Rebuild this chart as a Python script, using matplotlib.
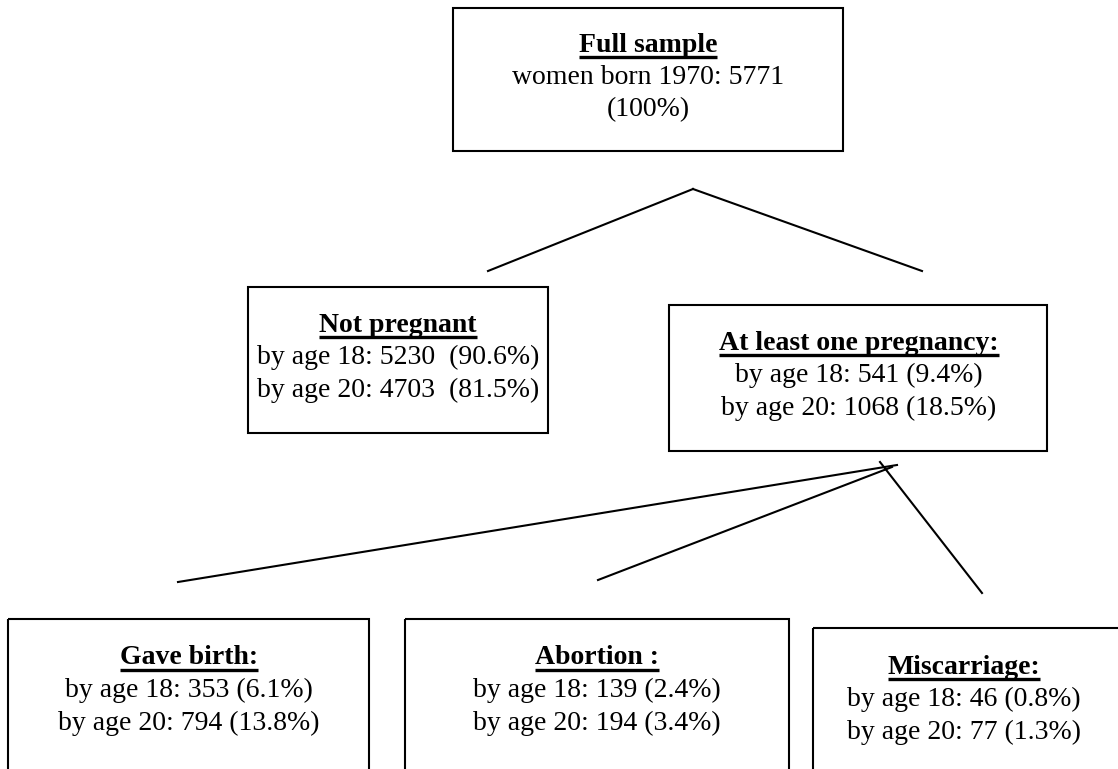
import matplotlib
matplotlib.use("Agg")
import matplotlib.pyplot as plt
from matplotlib.patches import Rectangle

# ---- data ----
titles = ["Full sample", "Not pregnant", "At least one pregnancy:",
          "Gave birth:", "Abortion :", "Miscarriage:"]
n_age18 = [5771, 5230, 541, 353, 139, 46]
pct_age18 = [100, 90.6, 9.4, 6.1, 2.4, 0.8]
n_age20 = [None, 4703, 1068, 794, 194, 77]
pct_age20 = [None, 81.5, 18.5, 13.8, 3.4, 1.3]

W, H = 1118, 769
fig = plt.figure(figsize=(W / 100, H / 100), dpi=100)
ax = fig.add_axes([0, 0, 1, 1])
ax.set_xlim(0, W)
ax.set_ylim(H, 0)
ax.axis("off")

FONT = "Liberation Serif"
FS = 20

# layout: (left, top, right, bottom)
boxes = [
    (453, 8, 843, 151),
    (248, 287, 548, 433),
    (669, 305, 1047, 451),
    (8, 619, 369, 780),
    (405, 619, 789, 780),
    (813, 628, 1125, 780),
]
# text centre positions (x, y of title)
text_pos = [
    (648, 45),
    (398, 325),
    (859, 343),
    (189, 658),
    (597, 658),
    (964, 667),
]
LS = 32.5

for (l, t, r, b) in boxes:
    ax.add_patch(Rectangle((l, t), r - l, b - t, fill=False,
                           edgecolor="black", linewidth=1.5, clip_on=False))

def fmt_line(i):
    if i == 0:
        return [f"women born 1970: {n_age18[0]}", f"({pct_age18[0]}%)"]
    sep = "  " if i == 1 else " "
    return [f"by age 18: {n_age18[i]}{sep}({pct_age18[i]}%)",
            f"by age 20: {n_age20[i]}{sep}({pct_age20[i]}%)"]

title_texts = []
for i, (cx, ty) in enumerate(text_pos):
    tt = ax.text(cx, ty, titles[i], ha="center", va="center",
                 fontsize=FS, fontweight="bold", family=FONT)
    title_texts.append(tt)
    for k, line in enumerate(fmt_line(i)):
        ax.text(cx, ty + LS * (k + 1), line, ha="center", va="center",
                fontsize=FS, family=FONT)

# connector lines
connectors = [
    ((693, 189), (488, 271)),
    ((693, 189), (922, 271)),
    ((897, 465), (178, 582)),
    ((892, 467), (598, 580)),
    ((880, 462), (982, 593)),
]
for (x0, y0), (x1, y1) in connectors:
    ax.plot([x0, x1], [y0, y1], color="black", linewidth=1.5)

# underline titles
fig.canvas.draw()
renderer = fig.canvas.get_renderer()
inv = ax.transData.inverted()
for tt in title_texts:
    bb = tt.get_window_extent(renderer)
    (x0, y0), (x1, y1) = inv.transform([(bb.x0, bb.y0), (bb.x1, bb.y1)])
    yb = max(y0, y1) - 1
    ax.plot([x0, x1], [yb, yb], color="black", linewidth=2.4,
            solid_capstyle="butt")

fig.savefig("out.png", dpi=100)
